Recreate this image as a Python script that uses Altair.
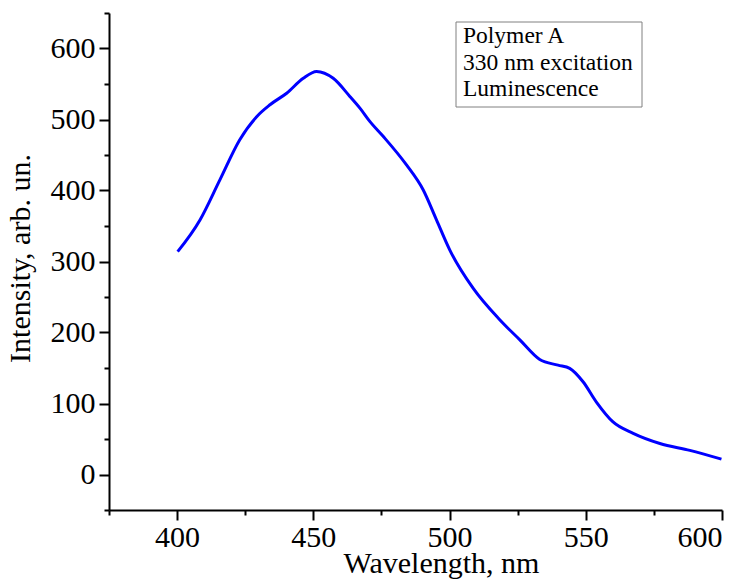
import altair as alt
import pandas as pd

# Luminescence spectrum
wavelength = [400.2, 408.4, 415.7, 423.0, 429.2, 434.1, 440.2, 446.3, 451.2, 457.3,
              463.4, 467.1, 470.8, 475.7, 484.2, 490.3, 495.2, 500.1, 508.7, 518.5,
              525.8, 533.1, 539.8, 544.1, 549.0, 553.9, 560.0, 567.4, 577.2, 588.2, 599.8]
intensity = [313.9, 358.6, 415.0, 471.5, 504.0, 520.8, 537.0, 558.0, 567.6, 558.0,
             532.5, 516.0, 497.0, 476.0, 436.0, 401.0, 358.6, 316.0, 262.0, 217.6,
             189.6, 162.0, 154.0, 149.5, 130.6, 102.0, 74.0, 58.0, 43.7, 34.0, 21.6]

x_ticks = [375, 400, 425, 450, 475, 500, 525, 550, 575, 600]
y_ticks = [-50, 0, 50, 100, 150, 200, 250, 300, 350, 400, 450, 500, 550, 600, 650]
legend_lines = ["Polymer A", "330 nm excitation", "Luminescence"]

df = pd.DataFrame({"wavelength": wavelength, "intensity": intensity})

FONT = "Liberation Serif"
W, H = 613, 497

line = alt.Chart(df).mark_line(color="#0000FF", strokeWidth=3, interpolate="monotone").encode(
    x=alt.X("wavelength:Q",
            scale=alt.Scale(domain=[375, 600], nice=False, zero=False),
            axis=alt.Axis(values=x_ticks, title="Wavelength, nm",
                          labelExpr="datum.value % 50 === 0 ? datum.label : ''",
                          tickSize={"condition": {"test": "datum.value % 50 === 0", "value": 10}, "value": 5},
                          labelPadding=2, titleX=332, titleY=62, titleBaseline="alphabetic",
                          titleAnchor="start", titleAlign="center")),
    y=alt.Y("intensity:Q",
            scale=alt.Scale(domain=[-50, 650], nice=False, zero=False),
            axis=alt.Axis(values=y_ticks, title="Intensity, arb. un.",
                          labelExpr="datum.value % 100 === 0 ? datum.label : ''",
                          tickSize={"condition": {"test": "datum.value % 100 === 0", "value": 10}, "value": 5},
                          labelPadding=4, titleX=-80, titleY=245, titleBaseline="alphabetic",
                          titleAlign="center", titleAngle=270)),
)

box = alt.Chart(alt.Data(values=[{}])).mark_rect(fill="white", stroke="#808080", strokeWidth=1).encode(
    x=alt.value(347), x2=alt.value(533), y=alt.value(9), y2=alt.value(94)
)

text = alt.Chart(alt.Data(values=[{}])).mark_text(
    font=FONT, fontSize=23.5, color="black", align="left", baseline="alphabetic", lineHeight=26.5
).encode(
    x=alt.value(354), y=alt.value(30), text=alt.value(legend_lines)
)

chart = alt.layer(line, box, text).properties(
    width=W, height=H,
    autosize=alt.AutoSizeParams(type="none"),
    padding={"left": 101, "top": 5, "right": 16, "bottom": 69},
).configure_view(stroke=None).configure_axis(
    grid=False, domainColor="black", domainWidth=2, tickColor="black", tickWidth=2,
    labelFont=FONT, labelFontSize=30, labelColor="black", labelOverlap=False,
    titleFont=FONT, titleFontSize=30, titleColor="black", titleFontWeight="normal",
    ticks=True,
)

chart.save("out.html", embed_options={"renderer": "svg", "actions": False})
